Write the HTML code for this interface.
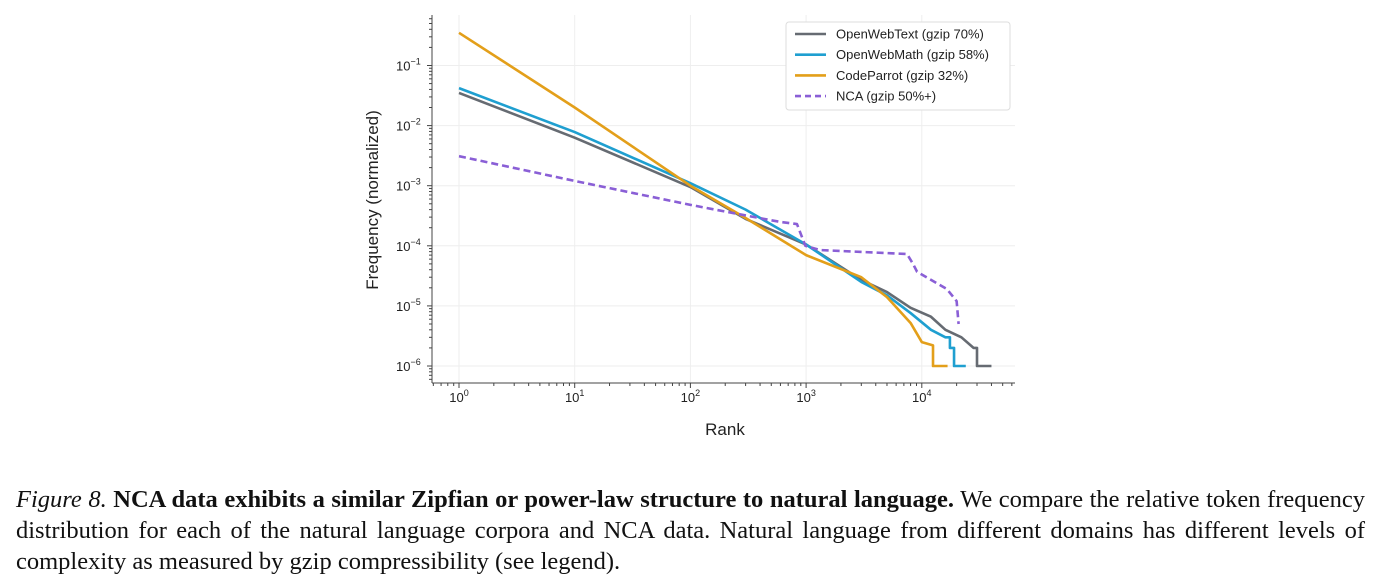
<!DOCTYPE html>
<html><head><meta charset="utf-8">
<style>
body{margin:0;background:#fff;width:1381px;height:584px;overflow:hidden;position:relative;font-family:"Liberation Sans",sans-serif}
#cap{position:absolute;left:16px;top:484px;width:1349px;font-family:"Liberation Serif",serif;font-size:24.5px;line-height:31px;color:#111}
#cap .j{text-align:justify;text-align-last:justify;white-space:nowrap}
</style></head><body>
<svg id="chart" width="1381" height="470" style="position:absolute;left:0;top:0"></svg>
<div id="cap"><div class="j"><i>Figure 8.</i> <b>NCA data exhibits a similar Zipfian or power-law structure to natural language.</b> We compare the relative token frequency</div><div class="j">distribution for each of the natural language corpora and NCA data. Natural language from different domains has different levels of</div><div>complexity as measured by gzip compressibility (see legend).</div></div>
<script>
const gray_r=[1,10,100,300,1000,3000,5000,8000,12000,16000,22000,28000,30000,30000,40000];
const gray_f=[0.035,0.0063,0.00095,0.00028,0.000105,2.7e-5,1.7e-5,9.3e-6,6.6e-6,4e-6,3e-6,2e-6,2e-6,1e-6,1e-6];
const blue_r=[1,10,100,300,1000,3000,5000,8000,12000,16000,17500,17500,19000,19000,24000];
const blue_f=[0.042,0.0078,0.0011,0.0004,0.000105,2.5e-5,1.5e-5,7.6e-6,4e-6,3e-6,3e-6,2e-6,2e-6,1e-6,1e-6];
const orange_r=[1,10,100,300,1000,3000,5000,8000,10000,12500,12500,16700];
const orange_f=[0.35,0.02,0.001,0.00029,7e-5,3e-5,1.4e-5,5.2e-6,2.5e-6,2.2e-6,1e-6,1e-6];
const nca_r=[1,10,100,300,594,834,985,1320,7450,8400,9100,16500,20000,20800];
const nca_f=[0.0031,0.0012,0.00048,0.00032,0.00025,0.00023,0.0001,8.5e-5,7.3e-5,5e-5,3.7e-5,1.9e-5,1.2e-5,5e-6];
const xTicks=[0,1,2,3,4], yTicks=[-1,-2,-3,-4,-5,-6];
const NS="http://www.w3.org/2000/svg", svg=document.getElementById('chart');
const X=r=>459+115.7*Math.log10(r), Y=f=>366-60.1*(Math.log10(f)+6);
function mk(t,a,p){const e=document.createElementNS(NS,t);for(const k in a)e.setAttribute(k,a[k]);(p||svg).appendChild(e);return e;}
xTicks.forEach(d=>{const g=mk('line',{x1:X(10**d),x2:X(10**d),y1:15,y2:383,stroke:'#eee','stroke-width':1});

});
yTicks.forEach(d=>{const g=mk('line',{x1:432,x2:1015,y1:Y(10**d),y2:Y(10**d),stroke:'#eee','stroke-width':1});

});
const sl=mk('line',{x1:432,x2:432,y1:15,y2:383,stroke:'#444','stroke-width':1});


const sb=mk('line',{x1:432,x2:1015,y1:383,y2:383,stroke:'#444','stroke-width':1});


for(let d=-1;d<=4;d++)for(let m=1;m<10;m++){const x=X(m*10**d);if(x<432||x>1015)continue;
 const t=mk('line',{x1:x,x2:x,y1:383,y2:383+(m==1?5:3),stroke:'#444','stroke-width':1});
 
 }
xTicks.forEach(d=>{const t=mk('text',{x:X(10**d),y:402,'text-anchor':'middle','font-size':13,fill:'#222'});
t.innerHTML='10<tspan dy="-6" font-size="9">'+d+'</tspan>';

});
for(let d=-7;d<=0;d++)for(let m=1;m<10;m++){const y=Y(m*10**d);if(y<15||y>383)continue;
 const t=mk('line',{x1:432-(m==1?5:3),x2:432,y1:y,y2:y,stroke:'#444','stroke-width':1});
 
 }
yTicks.forEach(d=>{const t=mk('text',{x:396,y:Y(10**d)+5,'font-size':13,fill:'#222'});
t.innerHTML='10<tspan dy="-6" font-size="9">\u2212'+(-d)+'</tspan>';

});
const xl=mk('text',{x:725,y:435,'text-anchor':'middle','font-size':17,fill:'#222'});xl.textContent='Rank';


const yl=mk('text',{x:0,y:0,'text-anchor':'middle','font-size':17,fill:'#222',transform:'translate(378,200) rotate(-90)'});yl.textContent='Frequency (normalized)';


const series=[[gray_r,gray_f,'#666b72',null,'series-openwebtext'],[blue_r,blue_f,'#1f9fd0',null,'series-openwebmath'],[orange_r,orange_f,'#e39f1a',null,'series-codeparrot'],[nca_r,nca_f,'#8a5fd6','7,4','series-nca']];
series.forEach(s=>{const p=mk('polyline',{points:s[0].map((r,i)=>X(r)+','+Y(s[1][i])).join(' '),fill:'none',stroke:s[2],'stroke-width':2.6,'stroke-linejoin':'round'});
if(s[3])p.setAttribute('stroke-dasharray',s[3]);

});
const lg=mk('g',{});


mk('rect',{x:786,y:22,width:224,height:88,rx:3,fill:'#fff',stroke:'#ddd'},lg);
const names=['OpenWebText (gzip 70%)','OpenWebMath (gzip 58%)','CodeParrot (gzip 32%)','NCA (gzip 50%+)'];
names.forEach((n,i)=>{const y=34+i*20.7;const g=mk('g',{},lg);


const l=mk('line',{x1:795,x2:826,y1:y,y2:y,stroke:series[i][2],'stroke-width':2.6},g);if(series[i][3])l.setAttribute('stroke-dasharray','6,4');
const t=mk('text',{x:836,y:y+4.5,'font-size':13,fill:'#222'},g);t.textContent=n;});
</script>
</body></html>
